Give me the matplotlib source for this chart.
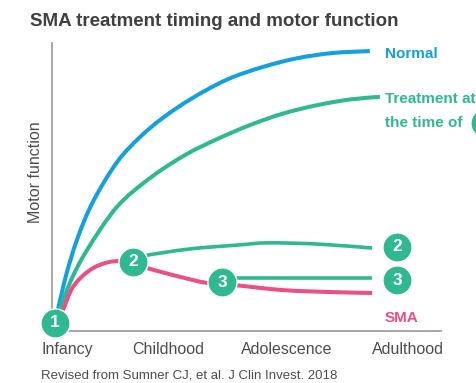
import matplotlib.pyplot as plt
from matplotlib.path import Path
from matplotlib.patches import PathPatch
import numpy as np

plt.rcParams['font.family'] = ['Liberation Sans', 'DejaVu Sans']

BLUE = '#13A0DC'
GREEN = '#2EB990'
PINK = '#EC4F86'
GREY_TXT = '#4d4d4d'

# time (0 = birth .. 10) vs motor function (0..100)
normal_t = [0.08, 0.33, 0.64, 1.05, 1.67, 2.26, 2.85, 3.6, 4.5, 5.4, 6.3, 7.2, 8.17]
normal_y = [2.8, 17.7, 31.6, 44.8, 58.6, 67.3, 74.0, 80.8, 87.3, 91.6, 94.7, 96.5, 97.2]

treat1_t = [0.08, 0.46, 0.90, 1.67, 2.52, 3.42, 4.24, 5.09, 5.94, 6.81, 7.66, 8.43]
treat1_y = [2.8, 16.7, 28.1, 43.1, 53.1, 61.1, 66.6, 71.5, 75.5, 78.4, 80.4, 81.3]

sma_t = [0.08, 0.28, 0.54, 0.98, 1.49, 2.08, 2.44, 3.29, 3.98, 4.65, 5.94, 7.22, 8.23]
sma_y = [2.8, 7.3, 15.3, 21.2, 24.0, 24.0, 21.9, 18.8, 16.7, 16.0, 14.2, 13.5, 13.2]

treat2_t = [2.08, 2.34, 3.55, 4.83, 5.53, 6.81, 8.23]
treat2_y = [24.0, 26.0, 28.5, 29.9, 30.6, 30.2, 28.8]

treat3_t = [4.37, 8.23]
treat3_y = [18.4, 18.4]

# numbered treatment points
badge_t = [0.08, 2.08, 4.37, 8.87, 8.87, 11.13]
badge_y = [2.8, 24.0, 17.0, 29.2, 17.7, 72.2]
badge_txt = ['1', '2', '3', '2', '3', '']

stage_pos = [0.39, 2.98, 6.04, 9.15]
stage_lbl = ['Infancy', 'Childhood', 'Adolescence', 'Adulthood']


def smooth_path(xs, ys):
    # cubic bezier path passing through every read point (catmull-rom handles)
    p = np.column_stack([xs, ys]).astype(float)
    if len(p) < 3:
        return Path(p)
    ext = np.vstack([p[0], p, p[-1]])
    verts = [p[0]]
    codes = [Path.MOVETO]
    for i in range(1, len(ext) - 2):
        c1 = ext[i] + (ext[i + 1] - ext[i - 1]) / 6
        c2 = ext[i + 1] - (ext[i + 2] - ext[i]) / 6
        verts += [c1, c2, ext[i + 1]]
        codes += [Path.CURVE4] * 3
    return Path(verts, codes)


def curve(ax, xs, ys, color, lw):
    ax.add_patch(PathPatch(smooth_path(xs, ys), facecolor='none', edgecolor=color,
                           lw=lw, capstyle='butt', zorder=2))


fig = plt.figure(figsize=(4.77, 3.83), dpi=100)
ax = fig.add_axes([52/477, 52/383, 389/477, 288/383])
ax.set_xlim(0, 10)
ax.set_ylim(0, 100)

lw = 2.9
curve(ax, normal_t, normal_y, BLUE, lw)
curve(ax, treat1_t, treat1_y, GREEN, lw)
curve(ax, sma_t, sma_y, PINK, lw)
curve(ax, treat2_t, treat2_y, GREEN, 2.6)
curve(ax, treat3_t, treat3_y, GREEN, 2.6)

ax.scatter(badge_t, badge_y, s=440, color=GREEN, edgecolor='white', linewidth=1,
           zorder=5, clip_on=False)
for t, y, s in zip(badge_t, badge_y, badge_txt):
    ax.text(t, y, s, color='white', fontsize=12.5, fontweight='bold',
            ha='center', va='center', zorder=6)

ax.text(8.56, 96.2, 'Normal', color=BLUE, fontsize=11, fontweight='bold', va='center')
ax.text(8.56, 80.6, 'Treatment at', color=GREEN, fontsize=11, fontweight='bold', va='center')
ax.text(8.56, 72.2, 'the time of', color=GREEN, fontsize=11, fontweight='bold', va='center')
ax.text(8.56, 4.5, 'SMA', color=PINK, fontsize=11, fontweight='bold', va='center')

for side in ['top', 'right']:
    ax.spines[side].set_visible(False)
for side in ['left', 'bottom']:
    ax.spines[side].set_color('#a0a0a0')
    ax.spines[side].set_linewidth(1.3)

ax.set_yticks([])
ax.set_xticks(stage_pos)
ax.set_xticklabels(stage_lbl, fontsize=11.5, color=GREY_TXT)
ax.tick_params(axis='x', length=0, pad=8)

fig.text(35/477, 1 - 172/383, 'Motor function', rotation=90, fontsize=11.5,
         color=GREY_TXT, ha='center', va='center')
fig.text(30/477, 1 - 21/383, 'SMA treatment timing and motor function',
         fontsize=13.5, fontweight='bold', color='#404040', ha='left', va='center')
fig.text(41/477, 1 - 375/383, 'Revised from Sumner CJ, et al. J Clin Invest. 2018',
         fontsize=9.5, color=GREY_TXT, ha='left', va='center')

fig.savefig('out.png', dpi=100)
